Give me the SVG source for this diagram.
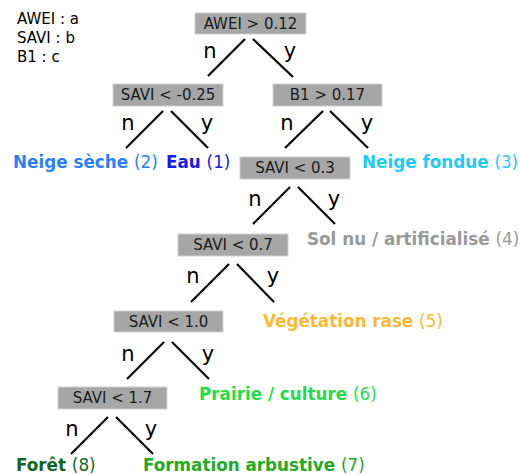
<svg xmlns="http://www.w3.org/2000/svg" width="520" height="475" viewBox="0 0 520 475">
<style>
text{font-family:"DejaVu Sans",sans-serif}
.box{fill:#a6a6a6;stroke:#d0d0d0;stroke-width:1}
.bt{font-size:15px;fill:#1a1a1a;text-anchor:middle}
.lg{font-size:15px;fill:#000}
.e{stroke:#000;stroke-width:2.2;fill:none}
.ny{font-size:21px;fill:#000;text-anchor:middle}
.lf{font-size:16.8px;font-weight:bold}
.num{font-weight:normal}
</style>
<rect width="520" height="475" fill="#fff"/>
<g id="legend">
<text class="lg" x="17" y="24">AWEI : a</text>
<text class="lg" x="17" y="43">SAVI : b</text>
<text class="lg" x="17" y="62">B1 : c</text>
</g>
<g id="connectors">
<line class="e" x1="245" y1="39" x2="208" y2="76"/>
<line class="e" x1="253" y1="39" x2="293" y2="77"/>
<line class="e" x1="163" y1="111" x2="126" y2="148"/>
<line class="e" x1="171" y1="111" x2="208" y2="148"/>
<line class="e" x1="323" y1="111" x2="285" y2="148"/>
<line class="e" x1="330" y1="111" x2="368" y2="148"/>
<line class="e" x1="290" y1="187" x2="253" y2="224"/>
<line class="e" x1="298" y1="187" x2="335" y2="224"/>
<line class="e" x1="229" y1="264" x2="191" y2="302"/>
<line class="e" x1="237" y1="264" x2="274" y2="302"/>
<line class="e" x1="164" y1="342" x2="127" y2="379"/>
<line class="e" x1="172" y1="342" x2="209" y2="379"/>
<line class="e" x1="108" y1="417" x2="71" y2="454"/>
<line class="e" x1="116" y1="417" x2="153" y2="454"/>
<text class="ny" x="210" y="58">n</text><text class="ny" x="290" y="58">y</text>
<text class="ny" x="128" y="130">n</text><text class="ny" x="207" y="130">y</text>
<text class="ny" x="287" y="130">n</text><text class="ny" x="367" y="130">y</text>
<text class="ny" x="255" y="206">n</text><text class="ny" x="334" y="206">y</text>
<text class="ny" x="193" y="283">n</text><text class="ny" x="273" y="283">y</text>
<text class="ny" x="128" y="361">n</text><text class="ny" x="208" y="361">y</text>
<text class="ny" x="72" y="436">n</text><text class="ny" x="151" y="436">y</text>
</g>
<g id="n_awei"><rect class="box" x="195" y="13" width="111" height="21"/><text class="bt" x="250.5" y="29">AWEI &gt; 0.12</text></g>
<g id="n_savi025"><rect class="box" x="113" y="84" width="110" height="22"/><text class="bt" x="168" y="100">SAVI &lt; -0.25</text></g>
<g id="n_b1"><rect class="box" x="273" y="84" width="109" height="22"/><text class="bt" x="327.5" y="100">B1 &gt; 0.17</text></g>
<g id="n_savi03"><rect class="box" x="240" y="157" width="110" height="22"/><text class="bt" x="295" y="173">SAVI &lt; 0.3</text></g>
<g id="n_savi07"><rect class="box" x="178" y="234" width="110" height="22"/><text class="bt" x="233" y="250">SAVI &lt; 0.7</text></g>
<g id="n_savi10"><rect class="box" x="114" y="311" width="109" height="21"/><text class="bt" x="168.5" y="327">SAVI &lt; 1.0</text></g>
<g id="n_savi17"><rect class="box" x="58" y="387" width="109" height="22"/><text class="bt" x="112.5" y="403">SAVI &lt; 1.7</text></g>
<g id="l2"><text class="lf" x="13" y="168" fill="#2a7fff">Neige sèche <tspan class="num">(2)</tspan></text></g>
<g id="l1"><text class="lf" x="166" y="168" fill="#1a1aee">Eau <tspan class="num">(1)</tspan></text></g>
<g id="l3"><text class="lf" x="362" y="168" fill="#1ecbff">Neige fondue <tspan class="num">(3)</tspan></text></g>
<g id="l4"><text class="lf" x="307" y="245" fill="#999999">Sol nu / artificialisé <tspan class="num">(4)</tspan></text></g>
<g id="l5"><text class="lf" x="263" y="327" fill="#ffb833">Végétation rase <tspan class="num">(5)</tspan></text></g>
<g id="l6"><text class="lf" x="199" y="400" fill="#22dd44">Prairie / culture <tspan class="num">(6)</tspan></text></g>
<g id="l8"><text class="lf" x="16" y="471" fill="#116622">Forêt <tspan class="num">(8)</tspan></text></g>
<g id="l7"><text class="lf" x="143" y="471" fill="#22aa22">Formation arbustive <tspan class="num">(7)</tspan></text></g>
</svg>
